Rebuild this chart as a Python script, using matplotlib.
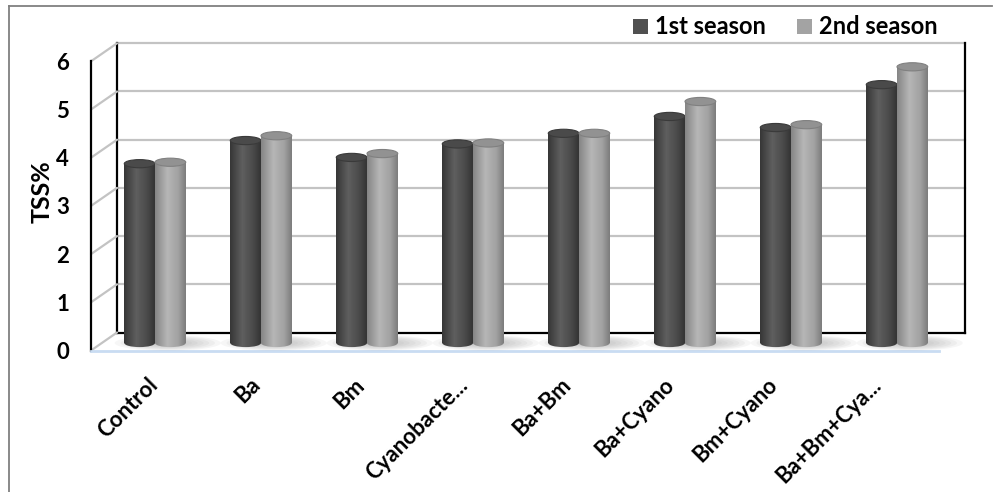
import numpy as np
import matplotlib
matplotlib.use("Agg")
import matplotlib.pyplot as plt
from matplotlib import transforms
from matplotlib.patches import Ellipse, Rectangle, ConnectionPatch
from matplotlib.lines import Line2D
from matplotlib.colors import LinearSegmentedColormap

# ---- data -------------------------------------------------------------
categories = ["Control", "Ba", "Bm", "Cyanobacte...", "Ba+Bm",
              "Ba+Cyano", "Bm+Cyano", "Ba+Bm+Cya..."]
season1 = [3.72, 4.20, 3.85, 4.13, 4.35, 4.70, 4.47, 5.36]
season2 = [3.75, 4.30, 3.93, 4.15, 4.35, 5.01, 4.53, 5.73]
series_names = ["1st season", "2nd season"]
y_ticks = [0, 1, 2, 3, 4, 5, 6]
y_label = "TSS%"

plt.rcParams["font.family"] = ["Lato", "DejaVu Sans"]
plt.rcParams["font.weight"] = "bold"
FS = 16
FW = "bold"

W, H = 997, 492
fig = plt.figure(figsize=(W / 100, H / 100), dpi=100)

# bar plane (mid depth of the 3-D box), expressed in pixels of the canvas
px_left, px_right = 102, 950
y0_px, unit = 343.0, 48.2
ylo, yhi = -0.5, 6.3
bot_px = y0_px - ylo * unit
top_px = y0_px - yhi * unit
ax = fig.add_axes([px_left / W, (H - bot_px) / H,
                   (px_right - px_left) / W, (bot_px - top_px) / H])
ax.axis("off")


def shifted(base, dx_px, dy_px):
    """base transform shifted by dx px right and dy px down."""
    return base + transforms.ScaledTranslation(dx_px / 100, -dy_px / 100,
                                               fig.dpi_scale_trans)


front = shifted(ax.transData, -11, 7.5)
back = shifted(ax.transData, 15, -10.5)

n = len(categories)
x = np.arange(n)
xmin, xmax = -0.5, n - 0.5
ymax = y_ticks[-1]

# ---- back wall --------------------------------------------------------
grid_c = "#c3c3c3"
for k in y_ticks[1:]:
    ax.plot([xmin, xmax], [k, k], color=grid_c, lw=1.6, transform=back,
            clip_on=False, zorder=1)
ax.plot([xmin, xmax], [0, 0], color="black", lw=1.6, transform=back,
        clip_on=False, zorder=1)
for xe in (xmin, xmax):
    ax.plot([xe, xe], [0, ymax], color="black", lw=1.6, transform=back,
            clip_on=False, zorder=1)

# ---- side wall and floor ---------------------------------------------
for k in y_ticks:
    cp = ConnectionPatch((xmin, k), (xmin, k), coordsA=front, coordsB=back,
                         arrowstyle="-", shrinkA=0, shrinkB=0,
                         color=grid_c, lw=1.6, zorder=1)
    ax.add_artist(cp)
ax.plot([xmin, xmin], [0, ymax], color="black", lw=1.6, transform=front,
        clip_on=False, zorder=1)
ax.plot([xmin, xmax], [0, 0], color="#c9dcf2", lw=2.0, transform=front,
        clip_on=False, zorder=1)

# soft shadows on the floor
for i in x:
    for s in np.linspace(1.0, 0.35, 7):
        ax.add_patch(Ellipse((i + 0.12, 0.0), 1.0 * s, 0.32 * s,
                             facecolor="#8f8f8f", edgecolor="none",
                             alpha=0.08, zorder=2, clip_on=False))

# ---- cylinders --------------------------------------------------------
cmaps = [
    LinearSegmentedColormap.from_list(
        "dark", [(0, "#363636"), (0.4, "#5f5f5f"), (0.75, "#4a4a4a"), (1, "#343434")]),
    LinearSegmentedColormap.from_list(
        "light", [(0, "#858585"), (0.4, "#b6b6b6"), (0.75, "#a2a2a2"), (1, "#7c7c7c")]),
]
cap_colors = ["#4a4a4a", "#929292"]
cap_edges = ["#3a3a3a", "#808080"]
bw = 0.29
cap_h = 0.17
grad = np.linspace(0, 1, 128)[None, :]

for j, vals in enumerate([season1, season2]):
    xs = x + (j - 0.5) * bw
    bars = ax.bar(xs, vals, bw, color="none", edgecolor="none", zorder=3)
    for xc, v, rect in zip(xs, vals, bars):
        im = ax.imshow(grad, cmap=cmaps[j], aspect="auto",
                       extent=(xc - bw / 2, xc + bw / 2, -cap_h, v),
                       interpolation="bilinear", zorder=3 + j * 0.1)
        im.set_clip_path(rect)
        bottom = Ellipse((xc, 0), bw, cap_h, facecolor="none",
                         edgecolor="none", zorder=3)
        ax.add_patch(bottom)
        im2 = ax.imshow(grad, cmap=cmaps[j], aspect="auto",
                        extent=(xc - bw / 2, xc + bw / 2, -cap_h, cap_h),
                        interpolation="bilinear", zorder=3 + j * 0.1)
        im2.set_clip_path(bottom)
        ax.add_patch(Ellipse((xc, v), bw, cap_h, facecolor=cap_colors[j],
                             edgecolor=cap_edges[j], lw=0.8,
                             zorder=3.05 + j * 0.1))

ax.set_xlim(xmin, xmax)
ax.set_ylim(ylo, yhi)

# ---- labels -----------------------------------------------------------
for k in y_ticks:
    ax.text(xmin, k, str(k), transform=shifted(front, -22, 2),
            ha="right", va="center", fontsize=FS, fontweight=FW)

# category labels sit on a slightly tighter pitch along the front edge
label_pitch = 0.975
for i, c in zip(x, categories):
    ax.text(i * label_pitch, 0, c, transform=shifted(front, 10, 31),
            rotation=45, rotation_mode="anchor", ha="right", va="center",
            fontsize=FS, fontweight=FW)

fig.text(42 / W, 1 - 192 / H, y_label, rotation=90, ha="center",
         va="center", fontsize=FS + 2, fontweight=FW)

# legend
leg_sq = [(633, "#505050"), (797, "#a3a3a3")]
for (lx, col), name in zip(leg_sq, series_names):
    fig.add_artist(Rectangle((lx / W, 1 - 34 / H), 15 / W, 15 / H,
                             transform=fig.transFigure, facecolor=col,
                             edgecolor="none"))
    fig.text((lx + 22) / W, 1 - 34 / H, name, ha="left", va="baseline",
             fontsize=FS + 1, fontweight=FW)

# outer chart border
fig.add_artist(Line2D([9 / W, 9 / W], [0, 1 - 6 / H], transform=fig.transFigure,
                      color="#808080", lw=1.3))
fig.add_artist(Line2D([9 / W, 992 / W], [1 - 6 / H, 1 - 6 / H],
                      transform=fig.transFigure, color="#808080", lw=1.3))

fig.savefig("out.png", dpi=100, facecolor="white")
